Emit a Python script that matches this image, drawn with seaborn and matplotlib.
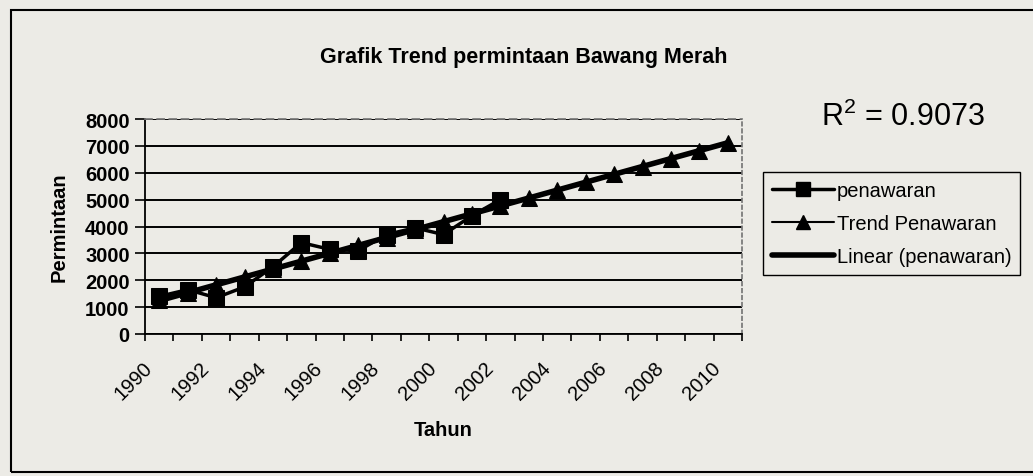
import numpy as np
import pandas as pd
import seaborn as sns
import matplotlib
matplotlib.use('Agg')
import matplotlib.pyplot as plt
import matplotlib.transforms as mtransforms
from matplotlib.lines import Line2D

# observed supply (penawaran), 1990-2002
years_obs = list(range(1990, 2003))
penawaran = [1400, 1650, 1350, 1750, 2500, 3400, 3150, 3100, 3700, 3950, 3700, 4400, 5000]

# trend projection, 1990-2010
years_all = list(range(1990, 2011))
trend = [1250, 1540, 1830, 2120, 2420, 2710, 3000, 3300, 3590, 3880, 4180,
         4470, 4760, 5060, 5350, 5640, 5940, 6230, 6520, 6820, 7110]

tick_years = list(range(1990, 2011, 2))
r2_text = "R$^2$ = 0.9073"

bg = "#ecebe6"
sns.set_theme(style="white")
plt.rcParams['font.family'] = ['Liberation Sans', 'DejaVu Sans']
plt.rcParams['mathtext.default'] = 'regular'
plt.rcParams['text.color'] = 'black'
plt.rcParams['axes.labelcolor'] = 'black'
plt.rcParams['xtick.color'] = 'black'
plt.rcParams['ytick.color'] = 'black'

W, H = 1033, 477
fig = plt.figure(figsize=(W / 100, H / 100), dpi=100, facecolor=bg)
ax = fig.add_axes([145 / W, 1 - 335 / H, (742 - 145) / W, (335 - 120) / H])
ax.set_facecolor(bg)

df_obs = pd.DataFrame({"tahun": years_obs, "nilai": penawaran})
df_trend = pd.DataFrame({"tahun": years_all, "nilai": trend})

# linear trendline fitted on the observed series
coef = np.polyfit(years_obs, penawaran, 1)
df_lin = pd.DataFrame({"tahun": years_all, "nilai": np.polyval(coef, years_all)})

sns.lineplot(data=df_lin, x="tahun", y="nilai", ax=ax, color="black", lw=4.0, zorder=3)
sns.lineplot(data=df_trend, x="tahun", y="nilai", ax=ax, color="black", lw=1.5,
             marker="^", markersize=12, markeredgecolor="black", zorder=4)
sns.lineplot(data=df_obs, x="tahun", y="nilai", ax=ax, color="black", lw=2.5,
             marker="s", markersize=12, markeredgecolor="black", zorder=5)

ax.set_xlim(1989.5, 2010.5)
ax.set_ylim(0, 8000)
ax.set_yticks(range(0, 8001, 1000))
ax.set_xticks(tick_years)
ax.set_xticks(np.arange(1989.5, 2011, 1.0), minor=True)
ax.tick_params(axis="x", which="major", length=0, pad=22)
ax.tick_params(axis="x", which="minor", direction="out", length=5, width=1.2, color="black", bottom=True)
ax.tick_params(axis="y", direction="out", length=7, width=1.2, color="black", left=True, pad=4)

for lab in ax.get_yticklabels():
    lab.set_fontsize(14.5)
    lab.set_fontweight("bold")
offset = mtransforms.ScaledTranslation(-10 / 100, 0, fig.dpi_scale_trans)
for lab in ax.get_xticklabels():
    lab.set_fontsize(14.5)
    lab.set_rotation(45)
    lab.set_ha("right")
    lab.set_va("center")
    lab.set_rotation_mode("anchor")
    lab.set_transform(lab.get_transform() + offset)

ax.yaxis.grid(True, color="black", lw=1.4)
ax.set_axisbelow(True)
for side in ["left", "bottom"]:
    ax.spines[side].set_color("black")
    ax.spines[side].set_linewidth(1.3)
ax.spines["top"].set_color("#777777")
ax.spines["top"].set_linestyle((0, (4, 3)))
ax.spines["right"].set_color("#777777")
ax.spines["right"].set_linestyle((0, (2, 2)))

ax.set_xlabel("Tahun", fontsize=14.5, fontweight="bold", labelpad=12)
ax.set_ylabel("Permintaan", fontsize=14.5, fontweight="bold", labelpad=12)

fig.text(524 / W, 1 - 58 / H, "Grafik Trend permintaan Bawang Merah",
         ha="center", va="center", fontsize=15.5, fontweight="bold")
fig.text(903 / W, 1 - 117 / H, r2_text, ha="center", va="center", fontsize=22)

handles = [
    Line2D([], [], color="black", lw=2.5, marker="s", markersize=10),
    Line2D([], [], color="black", lw=1.5, marker="^", markersize=10),
    Line2D([], [], color="black", lw=4.0),
]
fig.legend(handles, ["penawaran", "Trend Penawaran", "Linear (penawaran)"],
           loc="upper left", bbox_to_anchor=(763 / W, 1 - 173 / H), borderaxespad=0,
           frameon=True, fancybox=False, edgecolor="black", facecolor=bg, framealpha=1,
           fontsize=14.5, handlelength=3.1, handletextpad=0.1, labelspacing=0.7,
           borderpad=0.45)

# outer chart border
fig.add_artist(plt.Rectangle((11 / W, 1 - 473 / H), 1.0, (473 - 11) / H,
                             transform=fig.transFigure, fill=False,
                             edgecolor="black", lw=1.5))

fig.savefig("out.png", dpi=100, facecolor=bg)
